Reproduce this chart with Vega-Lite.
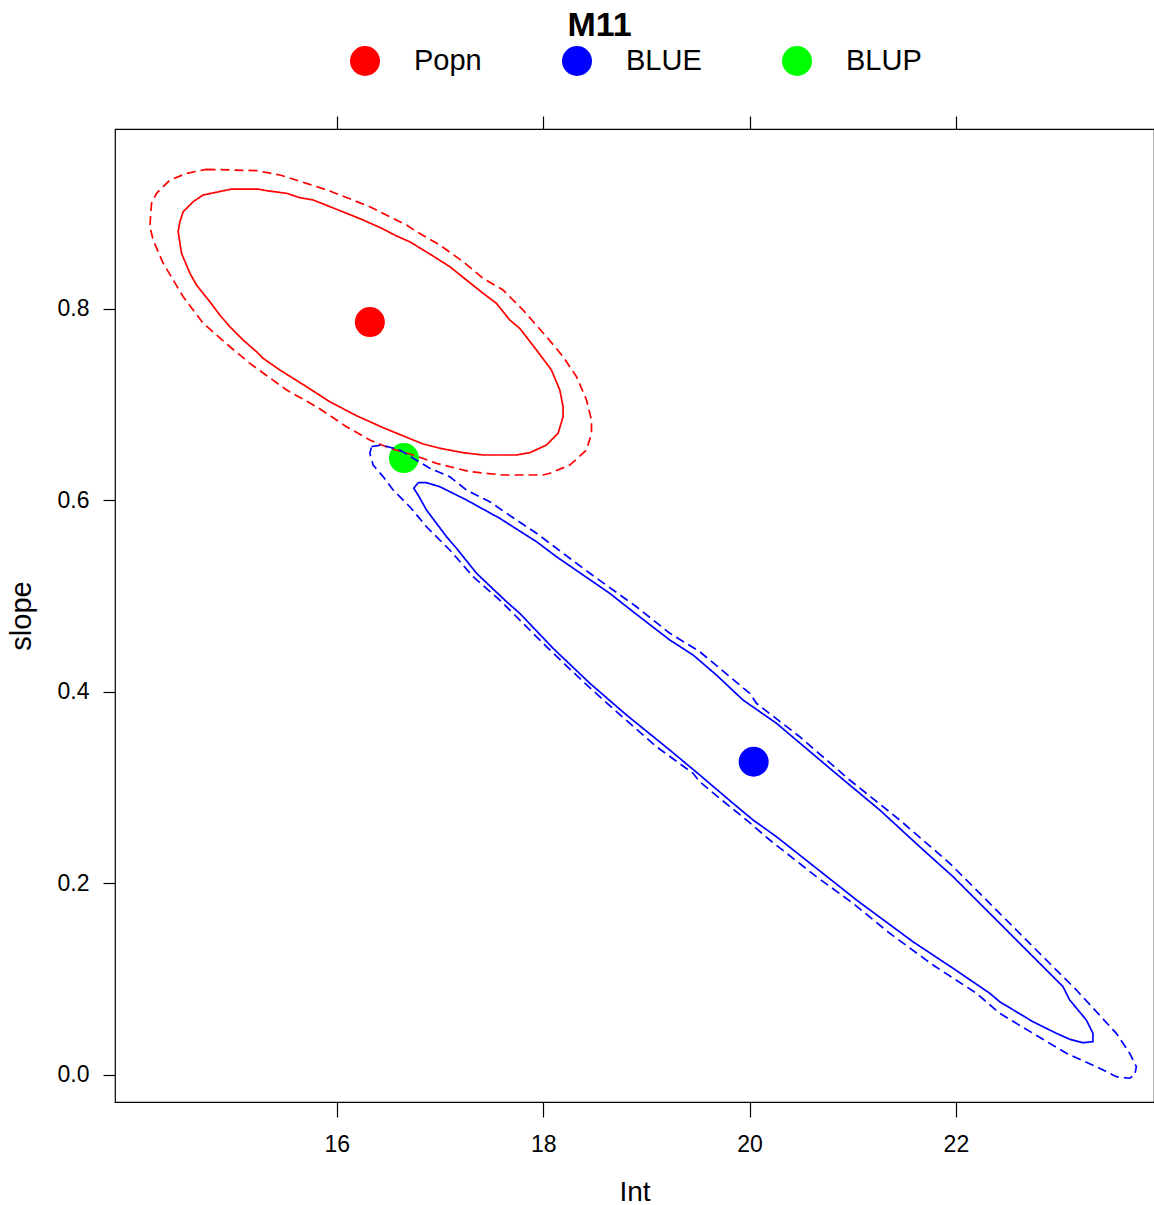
{
  "$schema": "https://vega.github.io/schema/vega-lite/v6.json",
  "width": 1039,
  "height": 973,
  "autosize": {"type": "none"},
  "padding": {"left": 115, "top": 129, "right": 0, "bottom": 103},
  "background": "white",
  "title": {"text": "M11", "fontSize": 34, "fontWeight": "bold", "font": "Liberation Sans", "anchor": "middle", "dx": -35, "offset": 3, "color": "black"},
  "config": {
    "view": {"stroke": "black", "strokeWidth": 1.2},
    "font": "Liberation Sans",
    "axis": {"grid": false, "domain": false, "tickColor": "black", "tickWidth": 1.2, "labelColor": "black", "titleColor": "black", "labelFont": "Liberation Sans", "titleFont": "Liberation Sans", "titleFontWeight": "normal"}
  },
  "datasets": {
    "pts": [
      {"type": "Popn", "Int": 16.32, "slope": 0.786},
      {"type": "BLUE", "Int": 20.04, "slope": 0.327},
      {"type": "BLUP", "Int": 16.65, "slope": 0.644}
    ],
    "contours": [
      {"g":"Popn","c":"inner","i":1,"Int":14.980,"slope":0.9248},
      {"g":"Popn","c":"inner","i":2,"Int":15.237,"slope":0.9248},
      {"g":"Popn","c":"inner","i":3,"Int":15.319,"slope":0.9231},
      {"g":"Popn","c":"inner","i":4,"Int":15.513,"slope":0.9204},
      {"g":"Popn","c":"inner","i":5,"Int":15.641,"slope":0.9158},
      {"g":"Popn","c":"inner","i":6,"Int":15.770,"slope":0.9134},
      {"g":"Popn","c":"inner","i":7,"Int":15.997,"slope":0.9037},
      {"g":"Popn","c":"inner","i":8,"Int":16.255,"slope":0.8925},
      {"g":"Popn","c":"inner","i":9,"Int":16.449,"slope":0.8831},
      {"g":"Popn","c":"inner","i":10,"Int":16.578,"slope":0.8758},
      {"g":"Popn","c":"inner","i":11,"Int":16.707,"slope":0.8698},
      {"g":"Popn","c":"inner","i":12,"Int":16.901,"slope":0.8570},
      {"g":"Popn","c":"inner","i":13,"Int":17.095,"slope":0.8438},
      {"g":"Popn","c":"inner","i":14,"Int":17.289,"slope":0.8270},
      {"g":"Popn","c":"inner","i":15,"Int":17.418,"slope":0.8160},
      {"g":"Popn","c":"inner","i":16,"Int":17.547,"slope":0.8055},
      {"g":"Popn","c":"inner","i":17,"Int":17.676,"slope":0.7881},
      {"g":"Popn","c":"inner","i":18,"Int":17.773,"slope":0.7794},
      {"g":"Popn","c":"inner","i":19,"Int":17.935,"slope":0.7568},
      {"g":"Popn","c":"inner","i":20,"Int":18.080,"slope":0.7359},
      {"g":"Popn","c":"inner","i":21,"Int":18.161,"slope":0.7150},
      {"g":"Popn","c":"inner","i":22,"Int":18.193,"slope":0.6976},
      {"g":"Popn","c":"inner","i":23,"Int":18.193,"slope":0.6872},
      {"g":"Popn","c":"inner","i":24,"Int":18.144,"slope":0.6698},
      {"g":"Popn","c":"inner","i":25,"Int":18.032,"slope":0.6576},
      {"g":"Popn","c":"inner","i":26,"Int":17.870,"slope":0.6496},
      {"g":"Popn","c":"inner","i":27,"Int":17.741,"slope":0.6472},
      {"g":"Popn","c":"inner","i":28,"Int":17.418,"slope":0.6472},
      {"g":"Popn","c":"inner","i":29,"Int":17.224,"slope":0.6496},
      {"g":"Popn","c":"inner","i":30,"Int":16.998,"slope":0.6542},
      {"g":"Popn","c":"inner","i":31,"Int":16.836,"slope":0.6587},
      {"g":"Popn","c":"inner","i":32,"Int":16.675,"slope":0.6657},
      {"g":"Popn","c":"inner","i":33,"Int":16.449,"slope":0.6757},
      {"g":"Popn","c":"inner","i":34,"Int":16.191,"slope":0.6882},
      {"g":"Popn","c":"inner","i":35,"Int":15.932,"slope":0.7028},
      {"g":"Popn","c":"inner","i":36,"Int":15.706,"slope":0.7185},
      {"g":"Popn","c":"inner","i":37,"Int":15.448,"slope":0.7359},
      {"g":"Popn","c":"inner","i":38,"Int":15.286,"slope":0.7481},
      {"g":"Popn","c":"inner","i":39,"Int":15.222,"slope":0.7550},
      {"g":"Popn","c":"inner","i":40,"Int":15.092,"slope":0.7672},
      {"g":"Popn","c":"inner","i":41,"Int":14.963,"slope":0.7811},
      {"g":"Popn","c":"inner","i":42,"Int":14.866,"slope":0.7933},
      {"g":"Popn","c":"inner","i":43,"Int":14.769,"slope":0.8072},
      {"g":"Popn","c":"inner","i":44,"Int":14.640,"slope":0.8246},
      {"g":"Popn","c":"inner","i":45,"Int":14.576,"slope":0.8369},
      {"g":"Popn","c":"inner","i":46,"Int":14.495,"slope":0.8577},
      {"g":"Popn","c":"inner","i":47,"Int":14.462,"slope":0.8803},
      {"g":"Popn","c":"inner","i":48,"Int":14.479,"slope":0.8907},
      {"g":"Popn","c":"inner","i":49,"Int":14.511,"slope":0.9012},
      {"g":"Popn","c":"inner","i":50,"Int":14.608,"slope":0.9116},
      {"g":"Popn","c":"inner","i":51,"Int":14.704,"slope":0.9186},
      {"g":"Popn","c":"inner","i":52,"Int":14.980,"slope":0.9248},
      {"g":"Popn","c":"outer","i":1,"Int":14.737,"slope":0.9454},
      {"g":"Popn","c":"outer","i":2,"Int":15.222,"slope":0.9440},
      {"g":"Popn","c":"outer","i":3,"Int":15.448,"slope":0.9395},
      {"g":"Popn","c":"outer","i":4,"Int":15.706,"slope":0.9308},
      {"g":"Popn","c":"outer","i":5,"Int":15.932,"slope":0.9228},
      {"g":"Popn","c":"outer","i":6,"Int":16.320,"slope":0.9064},
      {"g":"Popn","c":"outer","i":7,"Int":16.675,"slope":0.8873},
      {"g":"Popn","c":"outer","i":8,"Int":16.772,"slope":0.8803},
      {"g":"Popn","c":"outer","i":9,"Int":16.998,"slope":0.8664},
      {"g":"Popn","c":"outer","i":10,"Int":17.224,"slope":0.8490},
      {"g":"Popn","c":"outer","i":11,"Int":17.418,"slope":0.8316},
      {"g":"Popn","c":"outer","i":12,"Int":17.611,"slope":0.8194},
      {"g":"Popn","c":"outer","i":13,"Int":17.805,"slope":0.7985},
      {"g":"Popn","c":"outer","i":14,"Int":18.032,"slope":0.7707},
      {"g":"Popn","c":"outer","i":15,"Int":18.193,"slope":0.7498},
      {"g":"Popn","c":"outer","i":16,"Int":18.323,"slope":0.7289},
      {"g":"Popn","c":"outer","i":17,"Int":18.420,"slope":0.7046},
      {"g":"Popn","c":"outer","i":18,"Int":18.468,"slope":0.6837},
      {"g":"Popn","c":"outer","i":19,"Int":18.468,"slope":0.6698},
      {"g":"Popn","c":"outer","i":20,"Int":18.420,"slope":0.6524},
      {"g":"Popn","c":"outer","i":21,"Int":18.258,"slope":0.6367},
      {"g":"Popn","c":"outer","i":22,"Int":18.064,"slope":0.6281},
      {"g":"Popn","c":"outer","i":23,"Int":17.999,"slope":0.6263},
      {"g":"Popn","c":"outer","i":24,"Int":17.611,"slope":0.6263},
      {"g":"Popn","c":"outer","i":25,"Int":17.289,"slope":0.6298},
      {"g":"Popn","c":"outer","i":26,"Int":16.966,"slope":0.6385},
      {"g":"Popn","c":"outer","i":27,"Int":16.739,"slope":0.6472},
      {"g":"Popn","c":"outer","i":28,"Int":16.514,"slope":0.6542},
      {"g":"Popn","c":"outer","i":29,"Int":16.320,"slope":0.6628},
      {"g":"Popn","c":"outer","i":30,"Int":16.094,"slope":0.6767},
      {"g":"Popn","c":"outer","i":31,"Int":15.803,"slope":0.6976},
      {"g":"Popn","c":"outer","i":32,"Int":15.513,"slope":0.7150},
      {"g":"Popn","c":"outer","i":33,"Int":15.157,"slope":0.7429},
      {"g":"Popn","c":"outer","i":34,"Int":14.963,"slope":0.7602},
      {"g":"Popn","c":"outer","i":35,"Int":14.704,"slope":0.7847},
      {"g":"Popn","c":"outer","i":36,"Int":14.511,"slope":0.8124},
      {"g":"Popn","c":"outer","i":37,"Int":14.414,"slope":0.8299},
      {"g":"Popn","c":"outer","i":38,"Int":14.317,"slope":0.8473},
      {"g":"Popn","c":"outer","i":39,"Int":14.220,"slope":0.8716},
      {"g":"Popn","c":"outer","i":40,"Int":14.188,"slope":0.8855},
      {"g":"Popn","c":"outer","i":41,"Int":14.204,"slope":0.9099},
      {"g":"Popn","c":"outer","i":42,"Int":14.253,"slope":0.9204},
      {"g":"Popn","c":"outer","i":43,"Int":14.382,"slope":0.9342},
      {"g":"Popn","c":"outer","i":44,"Int":14.544,"slope":0.9412},
      {"g":"Popn","c":"outer","i":45,"Int":14.737,"slope":0.9454},
      {"g":"BLUE","c":"inner","i":1,"Int":16.788,"slope":0.6183},
      {"g":"BLUE","c":"inner","i":2,"Int":16.869,"slope":0.6183},
      {"g":"BLUE","c":"inner","i":3,"Int":16.998,"slope":0.6141},
      {"g":"BLUE","c":"inner","i":4,"Int":17.257,"slope":0.6002},
      {"g":"BLUE","c":"inner","i":5,"Int":17.579,"slope":0.5811},
      {"g":"BLUE","c":"inner","i":6,"Int":17.935,"slope":0.5567},
      {"g":"BLUE","c":"inner","i":7,"Int":18.129,"slope":0.5410},
      {"g":"BLUE","c":"inner","i":8,"Int":18.387,"slope":0.5219},
      {"g":"BLUE","c":"inner","i":9,"Int":18.645,"slope":0.5028},
      {"g":"BLUE","c":"inner","i":10,"Int":18.871,"slope":0.4836},
      {"g":"BLUE","c":"inner","i":11,"Int":19.227,"slope":0.4541},
      {"g":"BLUE","c":"inner","i":12,"Int":19.453,"slope":0.4384},
      {"g":"BLUE","c":"inner","i":13,"Int":19.679,"slope":0.4175},
      {"g":"BLUE","c":"inner","i":14,"Int":19.937,"slope":0.3914},
      {"g":"BLUE","c":"inner","i":15,"Int":20.261,"slope":0.3671},
      {"g":"BLUE","c":"inner","i":16,"Int":20.874,"slope":0.3114},
      {"g":"BLUE","c":"inner","i":17,"Int":21.262,"slope":0.2766},
      {"g":"BLUE","c":"inner","i":18,"Int":21.649,"slope":0.2383},
      {"g":"BLUE","c":"inner","i":19,"Int":21.972,"slope":0.2070},
      {"g":"BLUE","c":"inner","i":20,"Int":22.296,"slope":0.1722},
      {"g":"BLUE","c":"inner","i":21,"Int":22.715,"slope":0.1270},
      {"g":"BLUE","c":"inner","i":22,"Int":23.038,"slope":0.0922},
      {"g":"BLUE","c":"inner","i":23,"Int":23.103,"slope":0.0783},
      {"g":"BLUE","c":"inner","i":24,"Int":23.264,"slope":0.0574},
      {"g":"BLUE","c":"inner","i":25,"Int":23.328,"slope":0.0435},
      {"g":"BLUE","c":"inner","i":26,"Int":23.328,"slope":0.0348},
      {"g":"BLUE","c":"inner","i":27,"Int":23.232,"slope":0.0337},
      {"g":"BLUE","c":"inner","i":28,"Int":23.103,"slope":0.0373},
      {"g":"BLUE","c":"inner","i":29,"Int":22.974,"slope":0.0435},
      {"g":"BLUE","c":"inner","i":30,"Int":22.747,"slope":0.0556},
      {"g":"BLUE","c":"inner","i":31,"Int":22.424,"slope":0.0765},
      {"g":"BLUE","c":"inner","i":32,"Int":22.328,"slope":0.0853},
      {"g":"BLUE","c":"inner","i":33,"Int":21.972,"slope":0.1114},
      {"g":"BLUE","c":"inner","i":34,"Int":21.584,"slope":0.1391},
      {"g":"BLUE","c":"inner","i":35,"Int":21.036,"slope":0.1827},
      {"g":"BLUE","c":"inner","i":36,"Int":20.874,"slope":0.1966},
      {"g":"BLUE","c":"inner","i":37,"Int":20.261,"slope":0.2487},
      {"g":"BLUE","c":"inner","i":38,"Int":20.034,"slope":0.2662},
      {"g":"BLUE","c":"inner","i":39,"Int":19.840,"slope":0.2836},
      {"g":"BLUE","c":"inner","i":40,"Int":19.517,"slope":0.3132},
      {"g":"BLUE","c":"inner","i":41,"Int":19.227,"slope":0.3392},
      {"g":"BLUE","c":"inner","i":42,"Int":18.807,"slope":0.3758},
      {"g":"BLUE","c":"inner","i":43,"Int":18.452,"slope":0.4089},
      {"g":"BLUE","c":"inner","i":44,"Int":18.096,"slope":0.4454},
      {"g":"BLUE","c":"inner","i":45,"Int":17.773,"slope":0.4819},
      {"g":"BLUE","c":"inner","i":46,"Int":17.644,"slope":0.4941},
      {"g":"BLUE","c":"inner","i":47,"Int":17.354,"slope":0.5237},
      {"g":"BLUE","c":"inner","i":48,"Int":17.160,"slope":0.5498},
      {"g":"BLUE","c":"inner","i":49,"Int":17.063,"slope":0.5619},
      {"g":"BLUE","c":"inner","i":50,"Int":16.869,"slope":0.5898},
      {"g":"BLUE","c":"inner","i":51,"Int":16.788,"slope":0.6054},
      {"g":"BLUE","c":"inner","i":52,"Int":16.746,"slope":0.6124},
      {"g":"BLUE","c":"inner","i":53,"Int":16.788,"slope":0.6183},
      {"g":"BLUE","c":"outer","i":1,"Int":16.336,"slope":0.6559},
      {"g":"BLUE","c":"outer","i":2,"Int":16.433,"slope":0.6576},
      {"g":"BLUE","c":"outer","i":3,"Int":16.610,"slope":0.6524},
      {"g":"BLUE","c":"outer","i":4,"Int":16.901,"slope":0.6333},
      {"g":"BLUE","c":"outer","i":5,"Int":17.095,"slope":0.6245},
      {"g":"BLUE","c":"outer","i":6,"Int":17.257,"slope":0.6106},
      {"g":"BLUE","c":"outer","i":7,"Int":17.483,"slope":0.5984},
      {"g":"BLUE","c":"outer","i":8,"Int":17.741,"slope":0.5793},
      {"g":"BLUE","c":"outer","i":9,"Int":17.935,"slope":0.5655},
      {"g":"BLUE","c":"outer","i":10,"Int":18.129,"slope":0.5498},
      {"g":"BLUE","c":"outer","i":11,"Int":18.452,"slope":0.5237},
      {"g":"BLUE","c":"outer","i":12,"Int":18.677,"slope":0.5063},
      {"g":"BLUE","c":"outer","i":13,"Int":18.904,"slope":0.4888},
      {"g":"BLUE","c":"outer","i":14,"Int":19.227,"slope":0.4611},
      {"g":"BLUE","c":"outer","i":15,"Int":19.517,"slope":0.4419},
      {"g":"BLUE","c":"outer","i":16,"Int":19.614,"slope":0.4332},
      {"g":"BLUE","c":"outer","i":17,"Int":20.002,"slope":0.3984},
      {"g":"BLUE","c":"outer","i":18,"Int":20.067,"slope":0.3880},
      {"g":"BLUE","c":"outer","i":19,"Int":20.486,"slope":0.3531},
      {"g":"BLUE","c":"outer","i":20,"Int":20.971,"slope":0.3079},
      {"g":"BLUE","c":"outer","i":21,"Int":21.455,"slope":0.2662},
      {"g":"BLUE","c":"outer","i":22,"Int":21.940,"slope":0.2210},
      {"g":"BLUE","c":"outer","i":23,"Int":22.424,"slope":0.1688},
      {"g":"BLUE","c":"outer","i":24,"Int":22.844,"slope":0.1235},
      {"g":"BLUE","c":"outer","i":25,"Int":23.168,"slope":0.0887},
      {"g":"BLUE","c":"outer","i":26,"Int":23.555,"slope":0.0435},
      {"g":"BLUE","c":"outer","i":27,"Int":23.684,"slope":0.0227},
      {"g":"BLUE","c":"outer","i":28,"Int":23.749,"slope":0.0087},
      {"g":"BLUE","c":"outer","i":29,"Int":23.733,"slope":0.0000},
      {"g":"BLUE","c":"outer","i":30,"Int":23.684,"slope":-0.0034},
      {"g":"BLUE","c":"outer","i":31,"Int":23.555,"slope":-0.0018},
      {"g":"BLUE","c":"outer","i":32,"Int":23.393,"slope":0.0070},
      {"g":"BLUE","c":"outer","i":33,"Int":23.071,"slope":0.0227},
      {"g":"BLUE","c":"outer","i":34,"Int":22.747,"slope":0.0435},
      {"g":"BLUE","c":"outer","i":35,"Int":22.424,"slope":0.0644},
      {"g":"BLUE","c":"outer","i":36,"Int":22.199,"slope":0.0853},
      {"g":"BLUE","c":"outer","i":37,"Int":21.778,"slope":0.1148},
      {"g":"BLUE","c":"outer","i":38,"Int":21.359,"slope":0.1479},
      {"g":"BLUE","c":"outer","i":39,"Int":21.003,"slope":0.1792},
      {"g":"BLUE","c":"outer","i":40,"Int":20.648,"slope":0.2070},
      {"g":"BLUE","c":"outer","i":41,"Int":20.196,"slope":0.2453},
      {"g":"BLUE","c":"outer","i":42,"Int":19.970,"slope":0.2662},
      {"g":"BLUE","c":"outer","i":43,"Int":19.711,"slope":0.2888},
      {"g":"BLUE","c":"outer","i":44,"Int":19.517,"slope":0.3062},
      {"g":"BLUE","c":"outer","i":45,"Int":19.453,"slope":0.3149},
      {"g":"BLUE","c":"outer","i":46,"Int":19.098,"slope":0.3427},
      {"g":"BLUE","c":"outer","i":47,"Int":18.710,"slope":0.3792},
      {"g":"BLUE","c":"outer","i":48,"Int":18.387,"slope":0.4106},
      {"g":"BLUE","c":"outer","i":49,"Int":18.032,"slope":0.4471},
      {"g":"BLUE","c":"outer","i":50,"Int":17.579,"slope":0.4958},
      {"g":"BLUE","c":"outer","i":51,"Int":17.321,"slope":0.5202},
      {"g":"BLUE","c":"outer","i":52,"Int":17.095,"slope":0.5480},
      {"g":"BLUE","c":"outer","i":53,"Int":16.869,"slope":0.5723},
      {"g":"BLUE","c":"outer","i":54,"Int":16.707,"slope":0.5932},
      {"g":"BLUE","c":"outer","i":55,"Int":16.546,"slope":0.6106},
      {"g":"BLUE","c":"outer","i":56,"Int":16.449,"slope":0.6245},
      {"g":"BLUE","c":"outer","i":57,"Int":16.352,"slope":0.6367},
      {"g":"BLUE","c":"outer","i":58,"Int":16.320,"slope":0.6490},
      {"g":"BLUE","c":"outer","i":59,"Int":16.336,"slope":0.6559}
    ]
  },
  "layer": [
    {
      "data": {"name": "pts"},
      "mark": {"type": "circle", "size": 900, "opacity": 1},
      "encoding": {
        "x": {"field": "Int", "type": "quantitative",
              "scale": {"domain": [13.85, 23.92], "nice": false, "zero": false},
              "axis": {"orient": "bottom", "values": [16, 18, 20, 22], "tickSize": 15, "labelFontSize": 23, "labelPadding": 16, "title": "Int", "titleFontSize": 28, "titlePadding": 22}},
        "y": {"field": "slope", "type": "quantitative",
              "scale": {"domain": [-0.0282, 0.9875], "nice": false, "zero": false},
              "axis": {"orient": "left", "values": [0, 0.2, 0.4, 0.6, 0.8], "format": ".1f", "tickSize": 12, "labelFontSize": 23, "labelPadding": 14, "title": "slope", "titleFontSize": 29, "titlePadding": 21}},
        "color": {"field": "type", "type": "nominal",
                  "scale": {"domain": ["Popn", "BLUE", "BLUP"], "range": ["#FF0000", "#0000FF", "#00FF00"]},
                  "legend": {"orient": "none", "legendX": 235, "legendY": -83, "direction": "horizontal", "title": null, "symbolSize": 900, "symbolType": "circle", "symbolOpacity": 1, "symbolStrokeWidth": 0, "labelFontSize": 29, "labelFont": "Liberation Sans", "labelColor": "black", "labelOffset": 34, "labelBaseline": "middle", "labelFontWeight": "normal", "columnPadding": 80, "padding": 0}}
      }
    },
    {
      "data": {"name": "contours"},
      "mark": {"type": "line", "strokeWidth": 1.7},
      "encoding": {
        "x": {"field": "Int", "type": "quantitative",
              "axis": {"orient": "top", "values": [16, 18, 20, 22], "tickSize": 13, "labels": false, "title": null}},
        "y": {"field": "slope", "type": "quantitative", "axis": null},
        "color": {"field": "g", "type": "nominal",
                  "scale": {"domain": ["Popn", "BLUE"], "range": ["#FF0000", "#0000FF"]},
                  "legend": null},
        "strokeDash": {"field": "c", "type": "nominal",
                       "scale": {"domain": ["inner", "outer"], "range": [[1, 0], [9, 5]]},
                       "legend": null},
        "order": {"field": "i", "type": "quantitative"}
      }
    }
  ],
  "resolve": {"scale": {"color": "independent"}, "axis": {"x": "independent", "y": "independent"}}
}
